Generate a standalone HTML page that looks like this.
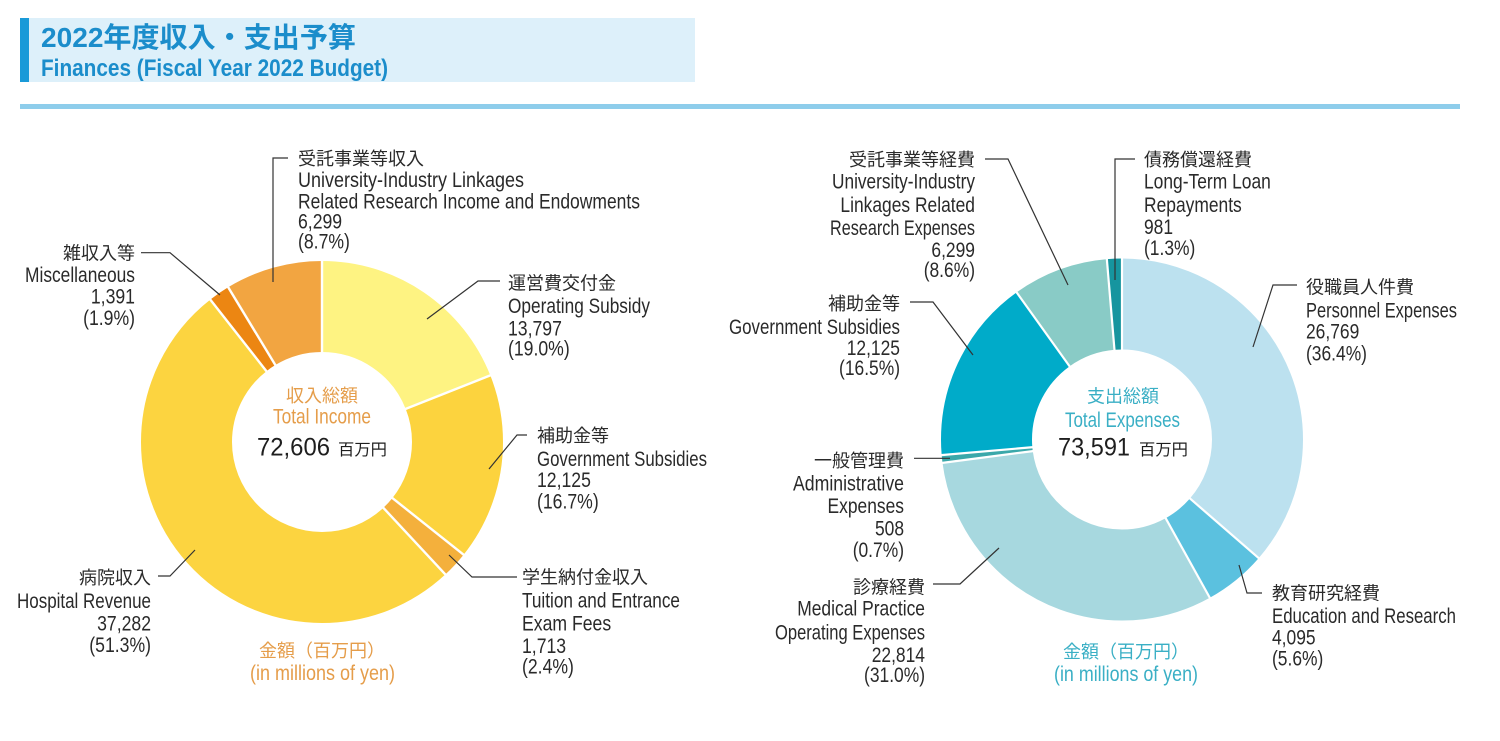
<!DOCTYPE html>
<html lang="ja">
<head>
<meta charset="utf-8">
<style>
  html,body{margin:0;padding:0;background:#fff;}
  body{width:1500px;height:741px;overflow:hidden;}
  svg{display:block;}
  text{font-family:"Liberation Sans","Noto Sans CJK JP",sans-serif;}
  .lbl{font-size:21px;fill:#2a2a2a;}
  .cjk{font-size:18px;fill:#2a2a2a;}
  .ld{fill:none;stroke:#333;stroke-width:1.2;}
</style>
</head>
<body>
<svg width="1500" height="741" viewBox="0 0 1500 741" xmlns="http://www.w3.org/2000/svg">
  <!-- Header -->
  <rect x="20" y="18" width="675" height="64" fill="#DDF0FA"/>
  <rect x="20" y="18" width="9" height="64" fill="#1A9AD8"/>
  <text x="41" y="47" font-size="28" font-weight="bold" fill="#1B8DCB" textLength="315" lengthAdjust="spacingAndGlyphs">2022年度収入・支出予算</text>
  <text x="41" y="76" font-size="24" font-weight="bold" fill="#1B8DCB" textLength="347" lengthAdjust="spacingAndGlyphs">Finances (Fiscal Year 2022 Budget)</text>
  <rect x="20" y="104" width="1440" height="5" fill="#8ECDEB"/>

  <!-- LEFT DONUT -->
  <g transform="rotate(-90 322 442)" fill="none" stroke-width="91">
    <circle cx="322" cy="442" r="135.5" stroke="#FEF382" stroke-dasharray="161.79 1000" stroke-dashoffset="0"/>
    <circle cx="322" cy="442" r="135.5" stroke="#FCD33E" stroke-dasharray="142.18 1000" stroke-dashoffset="-161.79"/>
    <circle cx="322" cy="442" r="135.5" stroke="#F4B03C" stroke-dasharray="20.09 1000" stroke-dashoffset="-303.97"/>
    <circle cx="322" cy="442" r="135.5" stroke="#FCD440" stroke-dasharray="437.17 1000" stroke-dashoffset="-324.05"/>
    <circle cx="322" cy="442" r="135.5" stroke="#EC8612" stroke-dasharray="16.31 1000" stroke-dashoffset="-761.22"/>
    <circle cx="322" cy="442" r="135.5" stroke="#F2A541" stroke-dasharray="73.84 1000" stroke-dashoffset="-777.53"/>
  </g>
  <g stroke="#fff" stroke-width="2.4">
    <line x1="322" y1="353" x2="322" y2="259" transform="rotate(0 322 442)"/>
    <line x1="322" y1="353" x2="322" y2="259" transform="rotate(68.41 322 442)"/>
    <line x1="322" y1="353" x2="322" y2="259" transform="rotate(128.53 322 442)"/>
    <line x1="322" y1="353" x2="322" y2="259" transform="rotate(137.02 322 442)"/>
    <line x1="322" y1="353" x2="322" y2="259" transform="rotate(321.88 322 442)"/>
    <line x1="322" y1="353" x2="322" y2="259" transform="rotate(328.77 322 442)"/>
  </g>

  <!-- RIGHT DONUT -->
  <g transform="rotate(-90 1122 439.5)" fill="none" stroke-width="91">
    <circle cx="1122" cy="439.5" r="135.5" stroke="#BCE1EF" stroke-dasharray="309.69 1000" stroke-dashoffset="0"/>
    <circle cx="1122" cy="439.5" r="135.5" stroke="#5BC1DF" stroke-dasharray="47.38 1000" stroke-dashoffset="-309.69"/>
    <circle cx="1122" cy="439.5" r="135.5" stroke="#A7D8DF" stroke-dasharray="263.93 1000" stroke-dashoffset="-357.07"/>
    <circle cx="1122" cy="439.5" r="135.5" stroke="#3AA8AA" stroke-dasharray="5.88 1000" stroke-dashoffset="-620.99"/>
    <circle cx="1122" cy="439.5" r="135.5" stroke="#00ABC9" stroke-dasharray="140.27 1000" stroke-dashoffset="-626.87"/>
    <circle cx="1122" cy="439.5" r="135.5" stroke="#89CBC6" stroke-dasharray="72.88 1000" stroke-dashoffset="-767.14"/>
    <circle cx="1122" cy="439.5" r="135.5" stroke="#16959F" stroke-dasharray="11.36 1000" stroke-dashoffset="-840.02"/>
  </g>
  <g stroke="#fff" stroke-width="2.2">
    <line x1="1122" y1="350.5" x2="1122" y2="256.5" transform="rotate(0 1122 439.5)"/>
    <line x1="1122" y1="350.5" x2="1122" y2="256.5" transform="rotate(130.95 1122 439.5)"/>
    <line x1="1122" y1="350.5" x2="1122" y2="256.5" transform="rotate(150.98 1122 439.5)"/>
    <line x1="1122" y1="350.5" x2="1122" y2="256.5" transform="rotate(262.59 1122 439.5)"/>
    <line x1="1122" y1="350.5" x2="1122" y2="256.5" transform="rotate(265.07 1122 439.5)"/>
    <line x1="1122" y1="350.5" x2="1122" y2="256.5" transform="rotate(324.39 1122 439.5)"/>
    <line x1="1122" y1="350.5" x2="1122" y2="256.5" transform="rotate(355.20 1122 439.5)"/>
  </g>

  <!-- LEFT CENTER TEXT -->
  <text x="322" y="402" font-size="18" fill="#E59D4A" text-anchor="middle">収入総額</text>
  <text x="273" y="423.5" font-size="21" fill="#E59D4A" textLength="98" lengthAdjust="spacingAndGlyphs">Total Income</text>
  <text x="257" y="455.5" font-size="25" fill="#1e1e1e" textLength="73" lengthAdjust="spacingAndGlyphs">72,606</text>
  <text x="338" y="455" font-size="16" fill="#1e1e1e" textLength="49" lengthAdjust="spacingAndGlyphs">百万円</text>

  <text x="322" y="657" font-size="18" fill="#E59D4A" text-anchor="middle">金額（百万円）</text>
  <text x="250" y="680" font-size="21" fill="#E59D4A" textLength="145" lengthAdjust="spacingAndGlyphs">(in millions of yen)</text>

  <!-- RIGHT CENTER TEXT -->
  <text x="1123" y="402.7" font-size="18" fill="#3AAFC5" text-anchor="middle">支出総額</text>
  <text x="1065" y="427" font-size="21" fill="#3AAFC5" textLength="115" lengthAdjust="spacingAndGlyphs">Total Expenses</text>
  <text x="1058" y="455.3" font-size="25" fill="#1e1e1e" textLength="72" lengthAdjust="spacingAndGlyphs">73,591</text>
  <text x="1139" y="455" font-size="16" fill="#1e1e1e" textLength="49" lengthAdjust="spacingAndGlyphs">百万円</text>

  <text x="1126" y="658" font-size="18" fill="#3AAFC5" text-anchor="middle">金額（百万円）</text>
  <text x="1054" y="681" font-size="21" fill="#3AAFC5" textLength="144" lengthAdjust="spacingAndGlyphs">(in millions of yen)</text>

  <!-- ===== LEFT LABELS ===== -->
  <polyline class="ld" points="288,158 273,158 273,282"/>
  <text class="cjk" x="298" y="165">受託事業等収入</text>
  <text class="lbl" x="298" y="187" textLength="226" lengthAdjust="spacingAndGlyphs">University-Industry Linkages</text>
  <text class="lbl" x="298" y="208.5" textLength="342" lengthAdjust="spacingAndGlyphs">Related Research Income and Endowments</text>
  <text class="lbl" transform="translate(298 228.5) scale(0.84 1)">6,299</text>
  <text class="lbl" transform="translate(298 248.5) scale(0.84 1)">(8.7%)</text>

  <polyline class="ld" points="141,252.7 170,252.7 220,295"/>
  <text class="cjk" x="135" y="259.7" text-anchor="end">雑収入等</text>
  <text class="lbl" x="25" y="282" textLength="110" lengthAdjust="spacingAndGlyphs">Miscellaneous</text>
  <text class="lbl" transform="translate(135 303.7) scale(0.84 1)" text-anchor="end">1,391</text>
  <text class="lbl" transform="translate(135 325) scale(0.84 1)" text-anchor="end">(1.9%)</text>

  <polyline class="ld" points="500,281 478,281 427,319"/>
  <text class="cjk" x="508" y="289.7">運営費交付金</text>
  <text class="lbl" x="508" y="313" textLength="142" lengthAdjust="spacingAndGlyphs">Operating Subsidy</text>
  <text class="lbl" transform="translate(508 335.3) scale(0.84 1)">13,797</text>
  <text class="lbl" transform="translate(508 355.3) scale(0.84 1)">(19.0%)</text>

  <polyline class="ld" points="527,435 517,435 489,469"/>
  <text class="cjk" x="537" y="442">補助金等</text>
  <text class="lbl" x="537" y="466" textLength="170" lengthAdjust="spacingAndGlyphs">Government Subsidies</text>
  <text class="lbl" transform="translate(537 487) scale(0.84 1)">12,125</text>
  <text class="lbl" transform="translate(537 508.7) scale(0.84 1)">(16.7%)</text>

  <polyline class="ld" points="517,577 472,577 449,555"/>
  <text class="cjk" x="522" y="583.7">学生納付金収入</text>
  <text class="lbl" x="522" y="607.7" textLength="158" lengthAdjust="spacingAndGlyphs">Tuition and Entrance</text>
  <text class="lbl" transform="translate(522 630.3) scale(0.84 1)">Exam Fees</text>
  <text class="lbl" transform="translate(522 653) scale(0.84 1)">1,713</text>
  <text class="lbl" transform="translate(522 673.7) scale(0.84 1)">(2.4%)</text>

  <polyline class="ld" points="158,576 170,576 195,550"/>
  <text class="cjk" x="151" y="584" text-anchor="end">病院収入</text>
  <text class="lbl" x="17" y="608" textLength="134" lengthAdjust="spacingAndGlyphs">Hospital Revenue</text>
  <text class="lbl" transform="translate(151 630.5) scale(0.84 1)" text-anchor="end">37,282</text>
  <text class="lbl" transform="translate(151 652) scale(0.84 1)" text-anchor="end">(51.3%)</text>

  <!-- ===== RIGHT LABELS ===== -->
  <polyline class="ld" points="985,159 1008,159 1068,285"/>
  <text class="cjk" x="975" y="166" text-anchor="end">受託事業等経費</text>
  <text class="lbl" x="832" y="188.7" textLength="143" lengthAdjust="spacingAndGlyphs">University-Industry</text>
  <text class="lbl" transform="translate(975 212) scale(0.83 1)" text-anchor="end">Linkages Related</text>
  <text class="lbl" x="830" y="235" textLength="145" lengthAdjust="spacingAndGlyphs">Research Expenses</text>
  <text class="lbl" transform="translate(975 257) scale(0.83 1)" text-anchor="end">6,299</text>
  <text class="lbl" transform="translate(975 277) scale(0.83 1)" text-anchor="end">(8.6%)</text>

  <polyline class="ld" points="1135,159 1115,159 1115,280"/>
  <text class="cjk" x="1144" y="166">債務償還経費</text>
  <text class="lbl" transform="translate(1144 188.7) scale(0.83 1)">Long-Term Loan</text>
  <text class="lbl" transform="translate(1144 212) scale(0.83 1)">Repayments</text>
  <text class="lbl" transform="translate(1144 234) scale(0.83 1)">981</text>
  <text class="lbl" transform="translate(1144 255) scale(0.83 1)">(1.3%)</text>

  <polyline class="ld" points="1297,285 1273,285 1253,347"/>
  <text class="cjk" x="1306" y="293.7">役職員人件費</text>
  <text class="lbl" x="1306" y="317.7" textLength="151" lengthAdjust="spacingAndGlyphs">Personnel Expenses</text>
  <text class="lbl" transform="translate(1306 338.7) scale(0.83 1)">26,769</text>
  <text class="lbl" transform="translate(1306 360.3) scale(0.83 1)">(36.4%)</text>

  <polyline class="ld" points="910,302 933,302 973,355"/>
  <text class="cjk" x="900" y="310" text-anchor="end">補助金等</text>
  <text class="lbl" x="729" y="334" textLength="171" lengthAdjust="spacingAndGlyphs">Government Subsidies</text>
  <text class="lbl" transform="translate(900 355) scale(0.83 1)" text-anchor="end">12,125</text>
  <text class="lbl" transform="translate(900 375) scale(0.83 1)" text-anchor="end">(16.5%)</text>

  <polyline class="ld" points="914,458.3 950,458.3"/>
  <text class="cjk" x="904" y="467" text-anchor="end">一般管理費</text>
  <text class="lbl" x="793" y="490.3" textLength="111" lengthAdjust="spacingAndGlyphs">Administrative</text>
  <text class="lbl" transform="translate(904 513) scale(0.83 1)" text-anchor="end">Expenses</text>
  <text class="lbl" transform="translate(904 535.3) scale(0.83 1)" text-anchor="end">508</text>
  <text class="lbl" transform="translate(904 557) scale(0.83 1)" text-anchor="end">(0.7%)</text>

  <polyline class="ld" points="933,584 960,584 999,548"/>
  <text class="cjk" x="925" y="593.7" text-anchor="end">診療経費</text>
  <text class="lbl" transform="translate(925 615.3) scale(0.83 1)" text-anchor="end">Medical Practice</text>
  <text class="lbl" x="775" y="639.7" textLength="150" lengthAdjust="spacingAndGlyphs">Operating Expenses</text>
  <text class="lbl" transform="translate(925 662) scale(0.83 1)" text-anchor="end">22,814</text>
  <text class="lbl" transform="translate(925 682) scale(0.83 1)" text-anchor="end">(31.0%)</text>

  <polyline class="ld" points="1262,593 1247,593 1239,565"/>
  <text class="cjk" x="1272" y="599.7">教育研究経費</text>
  <text class="lbl" x="1272" y="623" textLength="184" lengthAdjust="spacingAndGlyphs">Education and Research</text>
  <text class="lbl" transform="translate(1272 644.7) scale(0.83 1)">4,095</text>
  <text class="lbl" transform="translate(1272 665.3) scale(0.83 1)">(5.6%)</text>
</svg>
</body>
</html>
